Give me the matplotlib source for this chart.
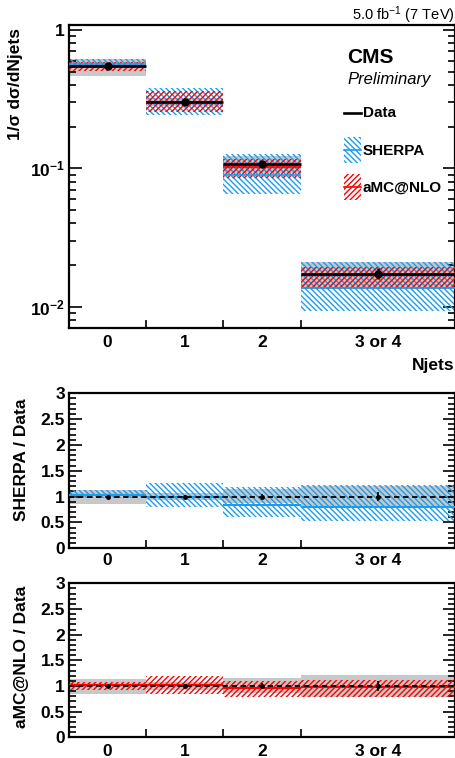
import matplotlib
matplotlib.use("Agg")
import matplotlib.pyplot as plt
import matplotlib.ticker as mticker
from matplotlib.patches import Rectangle
from matplotlib.lines import Line2D
import numpy as np

plt.rcParams['font.family'] = ['Liberation Sans', 'DejaVu Sans']
plt.rcParams['mathtext.fontset'] = 'custom'
plt.rcParams['mathtext.rm'] = 'Liberation Sans'
plt.rcParams['mathtext.bf'] = 'Liberation Sans:bold'
plt.rcParams['mathtext.it'] = 'Liberation Sans:italic'
plt.rcParams['hatch.linewidth'] = 1.0

# ---------------- data ----------------
categories = ['0', '1', '2', '3 or 4']
bin_edges = [-0.5, 0.5, 1.5, 2.5, 4.5]
bin_centers = [0, 1, 2, 3.5]

data = [0.548, 0.301, 0.107, 0.0173]
data_stat_rel = [0.02, 0.03, 0.05, 0.09]
data_unc_lo = [0.85, 0.93, 0.87, 0.78]
data_unc_hi = [1.13, 1.07, 1.15, 1.21]

sherpa_ratio = [1.03, 1.00, 0.84, 0.79]
sherpa_lo = [0.97, 0.805, 0.61, 0.535]
sherpa_hi = [1.12, 1.26, 1.19, 1.22]

amc_ratio = [1.01, 1.01, 0.96, 0.98]
amc_lo = [0.92, 0.85, 0.79, 0.78]
amc_hi = [1.08, 1.20, 1.10, 1.12]

yticks_main = [1, 0.1, 0.01]
yticklabels_main = ['1', r'$\mathbf{10^{-1}}$', r'$\mathbf{10^{-2}}$']
yticks_ratio = [0, 0.5, 1, 1.5, 2, 2.5, 3]
yticklabels_ratio = ['0', '0.5', '1', '1.5', '2', '2.5', '3']

BLUE = '#1a9cf0'
RED = '#ff0000'
GRAY = '#c8c8c8'
HATCH_B = '\\' * 6
HATCH_R = '/' * 6

data = np.array(data)
edges = np.array(bin_edges)
lefts = edges[:-1]
widths = np.diff(edges)

W, H = 456, 758
fig = plt.figure(figsize=(W / 100, H / 100), dpi=100)
X = lambda x: x / W
Y = lambda y: 1 - y / H

ax0 = fig.add_axes([X(69), Y(328), 386 / W, 303 / H])
ax1 = fig.add_axes([X(69), Y(548.3), 386 / W, 155 / H])
ax2 = fig.add_axes([X(69), Y(737.3), 386 / W, 154 / H])


def band(ax, lo, hi, **kw):
    lo = np.asarray(lo); hi = np.asarray(hi)
    ax.bar(lefts, hi - lo, bottom=lo, width=widths, align='edge', **kw)


# ---------------- main panel ----------------
band(ax0, data * np.array(data_unc_lo), data * np.array(data_unc_hi),
     color=GRAY, linewidth=0, zorder=1)
band(ax0, data * np.array(sherpa_lo), data * np.array(sherpa_hi),
     facecolor='none', edgecolor=BLUE, hatch=HATCH_B, linewidth=0, zorder=2)
band(ax0, data * np.array(amc_lo), data * np.array(amc_hi),
     facecolor='none', edgecolor=RED, hatch=HATCH_R, linewidth=0, zorder=3)
ax0.hlines(data * np.array(sherpa_ratio), lefts, edges[1:], color=BLUE, lw=1.2, zorder=4)
ax0.hlines(data * np.array(amc_ratio), lefts, edges[1:], color=RED, lw=1.2, zorder=4)
ax0.hlines(data, lefts, edges[1:], color='black', lw=1.9, zorder=5)
ax0.errorbar(bin_centers, data, yerr=data * np.array(data_stat_rel), fmt='o',
             color='black', ms=5, elinewidth=1.8, capsize=0, zorder=6)

ax0.set_yscale('log')
ax0.set_ylim(0.0070, 1.087)
ax0.yaxis.set_major_locator(mticker.FixedLocator(yticks_main))
ax0.yaxis.set_major_formatter(mticker.FixedFormatter(yticklabels_main))
ax0.yaxis.set_minor_locator(mticker.LogLocator(base=10, subs=np.arange(2, 10), numticks=20))
ax0.yaxis.set_minor_formatter(mticker.NullFormatter())

# ---------------- ratio panels ----------------
def ratio_panel(ax, r, lo, hi, color, hatch):
    band(ax, data_unc_lo, data_unc_hi, color=GRAY, linewidth=0, zorder=1)
    band(ax, lo, hi, facecolor='none', edgecolor=color, hatch=hatch, linewidth=0, zorder=2)
    ax.hlines(r, lefts, edges[1:], color=color, lw=1.5, zorder=3)
    ax.axhline(1.0, color='black', lw=1.3, ls=(0, (3, 2)), zorder=4)
    ax.errorbar(bin_centers, np.ones(4), yerr=data_stat_rel, fmt='o', color='black',
                ms=2.5, elinewidth=1.2, capsize=0, zorder=5)
    ax.set_ylim(0, 3)
    ax.yaxis.set_major_locator(mticker.FixedLocator(yticks_ratio))
    ax.yaxis.set_major_formatter(mticker.FixedFormatter(yticklabels_ratio))
    ax.yaxis.set_minor_locator(mticker.MultipleLocator(0.1))


ratio_panel(ax1, sherpa_ratio, sherpa_lo, sherpa_hi, BLUE, HATCH_B)
ratio_panel(ax2, amc_ratio, amc_lo, amc_hi, RED, HATCH_R)

for ax, pad in ((ax0, 5), (ax1, 3.5), (ax2, 5)):
    ax.set_xlim(-0.5, 4.5)
    ax.xaxis.set_major_locator(mticker.FixedLocator(bin_centers))
    ax.xaxis.set_major_formatter(mticker.FixedFormatter(categories))
    ax.xaxis.set_minor_locator(mticker.FixedLocator(edges[1:-1]))
    ax.tick_params(axis='x', which='major', length=0, pad=pad, labelsize=12.5)
    ax.tick_params(axis='x', which='minor', length=6, width=1.2, direction='in', top=False)
    ax.tick_params(axis='y', which='both', direction='in', left=True, right=True,
                   labelsize=12.5, pad=3, width=1.2)
    ax.tick_params(axis='y', which='major', length=9)
    ax.tick_params(axis='y', which='minor', length=5)
    for lab in ax.get_xticklabels() + ax.get_yticklabels():
        lab.set_fontweight('bold')
    for sp in ax.spines.values():
        sp.set_linewidth(1.6)

# ---------------- texts ----------------
fig.text(X(16), Y(28), r'1/σ dσ/dNjets', rotation=90, ha='center', va='top',
         fontsize=12.5, fontweight='bold')
fig.text(X(455), Y(365), 'Njets', ha='right', va='center', fontsize=12.5, fontweight='bold')
fig.text(X(22), Y(460), 'SHERPA / Data', rotation=90, ha='center', va='center',
         fontsize=12.5, fontweight='bold')
fig.text(X(22), Y(657), 'aMC@NLO / Data', rotation=90, ha='center', va='center',
         fontsize=12.5, fontweight='bold')
fig.text(X(455), Y(20.5), r'5.0 fb$^{-1}$ (7 TeV)', ha='right', va='baseline', fontsize=10.5)
fig.text(X(347), Y(62.7), 'CMS', ha='left', va='baseline', fontsize=15, fontweight='bold')
fig.text(X(347), Y(84), 'Preliminary', ha='left', va='baseline', fontsize=12, style='italic')

# legend
fig.add_artist(Line2D([X(344), X(361)], [Y(113), Y(113)], color='black', lw=1.9,
                      transform=fig.transFigure))
fig.text(X(363), Y(113), 'Data', ha='left', va='center', fontsize=11, fontweight='bold')
for (ytop, ybot, col, hatch, lab) in ((137, 163, BLUE, HATCH_B, 'SHERPA'),
                                      (174, 200, RED, HATCH_R, 'aMC@NLO')):
    fig.add_artist(Rectangle((X(344), Y(ybot)), 17 / W, (ybot - ytop) / H,
                             transform=fig.transFigure, facecolor='none', edgecolor=col,
                             hatch=hatch, linewidth=0))
    ym = (ytop + ybot) / 2
    fig.add_artist(Line2D([X(344), X(361)], [Y(ym), Y(ym)], color=col, lw=1.2,
                          transform=fig.transFigure))
    fig.text(X(363), Y(ym + 1), lab, ha='left', va='center', fontsize=11, fontweight='bold')

fig.savefig('out.png', dpi=100)
